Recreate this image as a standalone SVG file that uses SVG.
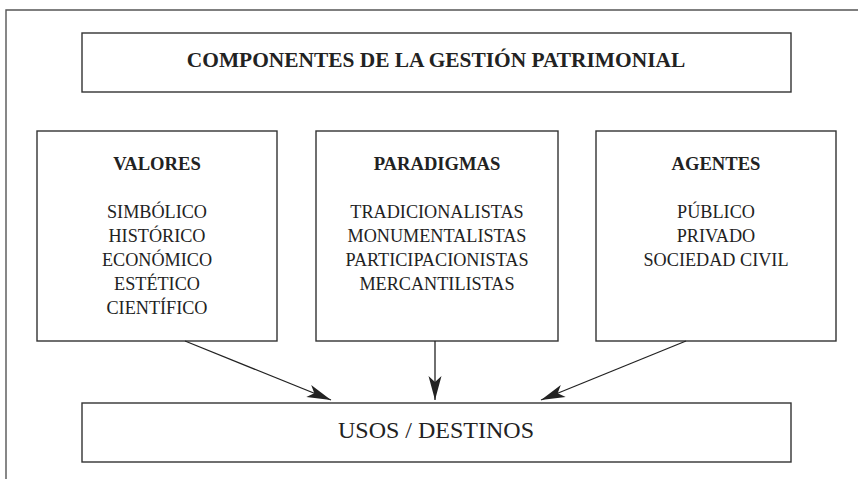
<svg xmlns="http://www.w3.org/2000/svg" width="858" height="479" viewBox="0 0 858 479">
<style>
.box{fill:#fff;stroke:#333;stroke-width:1.4}
.frame{fill:none;stroke:#555;stroke-width:1.4}
.conn{fill:none;stroke:#222;stroke-width:1.3}
text{font-family:"Liberation Serif","Times New Roman",serif;fill:#222;text-anchor:middle}
.h{font-weight:bold;font-size:18.6px}
.t{font-size:18.2px}
.title{font-weight:bold;font-size:21.4px}
.big{font-size:24px}
</style>
<defs>
<marker id="ah" viewBox="-26 -8 28 16" refX="0" refY="0" markerWidth="28" markerHeight="16" orient="auto" markerUnits="userSpaceOnUse">
<path d="M0,0 L-24,-6.5 L-18,0 L-24,6.5 Z" fill="#222"/>
</marker>
</defs>
<g id="frame">
<path class="frame" d="M858,10 H6 V479"/>
</g>
<g id="title">
<rect class="box" x="82" y="33" width="709" height="59"/>
<text class="title" x="436" y="67">COMPONENTES DE LA GESTIÓN PATRIMONIAL</text>
</g>
<g id="valores">
<rect class="box" x="37" y="131" width="240" height="210"/>
<text class="h" x="157" y="170">VALORES</text>
<text class="t" x="157" y="218">SIMBÓLICO</text>
<text class="t" x="157" y="242">HISTÓRICO</text>
<text class="t" x="157" y="266">ECONÓMICO</text>
<text class="t" x="157" y="290">ESTÉTICO</text>
<text class="t" x="157" y="314">CIENTÍFICO</text>
</g>
<g id="paradigmas">
<rect class="box" x="316" y="131" width="242" height="210"/>
<text class="h" x="437" y="170">PARADIGMAS</text>
<text class="t" x="437" y="218">TRADICIONALISTAS</text>
<text class="t" x="437" y="242">MONUMENTALISTAS</text>
<text class="t" x="437" y="266">PARTICIPACIONISTAS</text>
<text class="t" x="437" y="290">MERCANTILISTAS</text>
</g>
<g id="agentes">
<rect class="box" x="596" y="131" width="240" height="210"/>
<text class="h" x="716" y="170">AGENTES</text>
<text class="t" x="716" y="218">PÚBLICO</text>
<text class="t" x="716" y="242">PRIVADO</text>
<text class="t" x="716" y="266">SOCIEDAD CIVIL</text>
</g>
<g id="usos">
<rect class="box" x="82" y="403" width="709" height="59"/>
<text class="big" x="436" y="438">USOS / DESTINOS</text>
</g>
<g id="connectors">
<line class="conn" x1="185" y1="341" x2="331" y2="400" marker-end="url(#ah)"/>
<line class="conn" x1="435" y1="341" x2="435" y2="400" marker-end="url(#ah)"/>
<line class="conn" x1="686" y1="341" x2="541" y2="400" marker-end="url(#ah)"/>
</g>
</svg>
